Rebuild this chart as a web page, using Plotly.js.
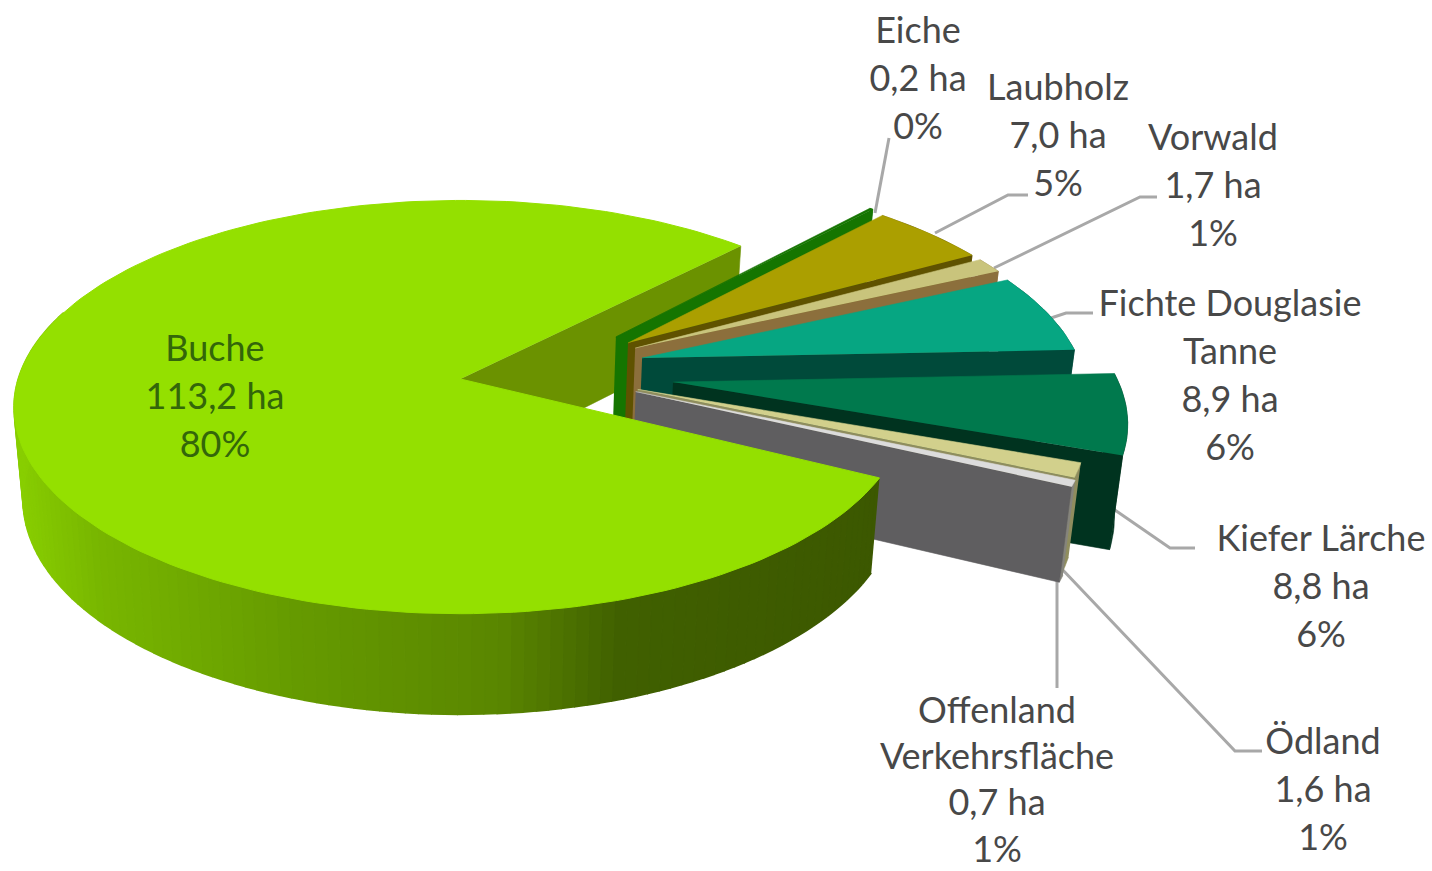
<!DOCTYPE html>
<html><head><meta charset="utf-8">
<script src="https://cdn.plot.ly/plotly-3.0.1.min.js"></script>
<style>html,body{margin:0;padding:0;background:#fff}#c{width:1432px;height:871px}</style>
</head><body><div id="c"></div>
<script>
// ---- chart values (clockwise from the gap) ----
const categories = ['Eiche','Laubholz','Vorwald','Fichte Douglasie Tanne','Kiefer Lärche','Ödland','Offenland Verkehrsfläche','Buche'];
const hectares   = [0.2, 7.0, 1.7, 8.9, 8.8, 1.6, 0.7, 113.2];
const percents   = ['0%','5%','1%','6%','6%','1%','1%','80%'];
const nameLines  = [['Eiche'],['Laubholz'],['Vorwald'],['Fichte Douglasie','Tanne'],['Kiefer Lärche'],['Ödland'],['Offenland','Verkehrsfläche'],['Buche']];

// ---- styling ----
const topColors  = ['#157500','#ab9f00','#c9c47c','#06a682','#00794d','#d2d08c','#dcdcdc','#94e000'];
const wallColors = ['#157500','#5f5200','#8c6f3c','#004a3a','#00331f','#8f8d5e','#5f5e60','#6b9200'];
const outerColors= ['#157500','#5f5200','#8c6f3c','#004a3a','#00331f','#8f8d5e','#85847c','#6b9200'];
const pullU = [0.344,0.37,0.385,0.398,0.46,0.38,0.375,-0.01];
const pullV = [0.206,0.175,0.149,0.099,-0.02,-0.055,-0.066,-0.005];
const radiiU = [0.99,0.98,0.98,0.98,0.985,0.97,0.975,0.98];
const radiiV = [0.99,0.98,0.98,0.98,1,0.99,0.99,0.99];
const labelX = [918,1058,1213,1230,1321,1323,997,215];
const labelY = [33.5,90.5,140.5,306.5,541.5,744.5,714,351.5];
const linePitch = [48.2,48.2,48.2,48.2,48.2,48.2,46.2,48.2];
const labelColor = '#484848', bucheLabelColor = '#33660a';
const wallStops = [[20,[136,206,0]],[100,[120,182,0]],[300,[101,154,0]],[500,[90,134,0]],[620,[64,96,0]],[875,[60,88,0]]];
const leaders = [
  [[889,138],[875,213]],
  [[1028,195],[1008,195],[935,233]],
  [[1157,197],[1140,197],[994,268]],
  [[1093,313],[1066,313],[1051,318]],
  [[1195,548],[1170,548],[1112,508]],
  [[1262,751],[1235,751],[1060,567]],
  [[1057,688],[1057,580]]
];

// ---- projection of the tilted disc ----
const CX=465, CY=378, R=451, B=204.6, P=0.137, H=91, K=0.98;
function project(u,v,bottom){
  const d=1+P*v; let x=R*u/d, y=-B*v/d;
  if(bottom){x*=K; y=y*K+H/d;}
  return [CX+x,CY+y];
}
const rad=a=>a*Math.PI/180;
const total=hectares.reduce((s,v)=>s+v,0);
const traces=[];
function poly(pts,color,w){
  traces.push({type:'scatter',mode:'lines',x:pts.map(p=>p[0]),y:pts.map(p=>p[1]),fill:'toself',fillcolor:color,
    line:{color:color,width:w===undefined?0.6:w},hoverinfo:'skip',showlegend:false});
}
function rim(i,a,bottom){
  const t=rad(a);
  return project(pullU[i]+radiiU[i]*Math.cos(t),pullV[i]+radiiV[i]*Math.sin(t),bottom);
}
function arc(i,a0,a1,bottom){
  const n=Math.max(2,Math.ceil(Math.abs(a1-a0)/1.5)), pts=[];
  for(let k=0;k<=n;k++) pts.push(rim(i,a0+(a1-a0)*k/n,bottom));
  return pts;
}
function wallColor(x){
  const s=wallStops;
  if(x<=s[0][0])return 'rgb('+s[0][1].join(',')+')';
  for(let j=1;j<s.length;j++) if(x<=s[j][0]){
    const t=(x-s[j-1][0])/(s[j][0]-s[j-1][0]);
    return 'rgb('+s[j][1].map((c,k)=>Math.round(s[j-1][1][k]+(c-s[j-1][1][k])*t)).join(',')+')';
  }
  return 'rgb('+s[s.length-1][1].join(',')+')';
}

// angular ranges from the values
const START=47.5, BUCHE_TURN=-1.5;
let cursor=START; const ranges=[];
hectares.forEach(v=>{const a0=cursor; cursor-=v/total*360; ranges.push([a0,cursor]);});
const bi=hectares.length-1;
const bu=[ranges[bi][0]+BUCHE_TURN, ranges[bi][1]+BUCHE_TURN];

// Buche inner cut face, seen through the gap (farthest)
poly([project(pullU[bi],pullV[bi],false),rim(bi,bu[1],false),rim(bi,bu[1],true),project(pullU[bi],pullV[bi],true)],wallColors[bi]);

// Small slices, far to near
for(let i=0;i<bi;i++){
  const [a0,a1]=ranges[i], ap=project(pullU[i],pullV[i],false), apB=project(pullU[i],pullV[i],true);
  const tTop=arc(i,a0,a1,false), tBot=arc(i,a0,a1,true);
  poly(tTop.concat(tBot.slice().reverse()),outerColors[i]);
  poly([ap,tTop[tTop.length-1],tBot[tBot.length-1],apB],wallColors[i]);
  poly([ap].concat(tTop),topColors[i]);
}
// Buche outer wall with its shading, then its top
{
  const stepA=1.5, a0=bu[0], aEnd=-200;
  for(let a=a0;a>aEnd;a-=stepA){
    const b=Math.max(a-stepA,aEnd);
    const t=[rim(bi,a,false),rim(bi,b,false)], d=[rim(bi,b,true),rim(bi,a,true)];
    const pts=t.concat(d);
    const xm=pts.reduce((s,p)=>s+p[0],0)/pts.length;
    poly(pts,wallColor(xm),1.6);
  }
  poly([project(pullU[bi],pullV[bi],false)].concat(arc(bi,bu[0],bu[1],false)),topColors[bi],1);
}

// labels, one text per line
const lx=[],ly=[],lt=[],lc=[];
categories.forEach((c,i)=>{
  const val=hectares[i].toFixed(1).replace('.',',')+' ha';
  nameLines[i].concat([val,percents[i]]).forEach((s,j)=>{
    lx.push(labelX[i]); ly.push(labelY[i]+j*linePitch[i]); lt.push(s); lc.push(i===bi?bucheLabelColor:labelColor);
  });
});
traces.push({type:'scatter',mode:'text',x:lx,y:ly,text:lt,textposition:'middle center',
  textfont:{family:'Lato, Carlito, sans-serif',size:36,color:lc},hoverinfo:'skip',showlegend:false});

const shapes=leaders.map(pts=>({type:'path',xref:'x',yref:'y',layer:'below',
  path:pts.map((p,i)=>(i?'L':'M')+p[0]+','+p[1]).join(' '),line:{color:'#a8a8a8',width:3}}));

Plotly.newPlot('c',traces,{
  width:1432,height:871,margin:{l:0,r:0,t:0,b:0},paper_bgcolor:'#fff',plot_bgcolor:'#fff',showlegend:false,
  xaxis:{range:[0,1432],visible:false,fixedrange:true},
  yaxis:{range:[871,0],visible:false,fixedrange:true},
  shapes:shapes
},{displayModeBar:false,staticPlot:true});
</script></body></html>
